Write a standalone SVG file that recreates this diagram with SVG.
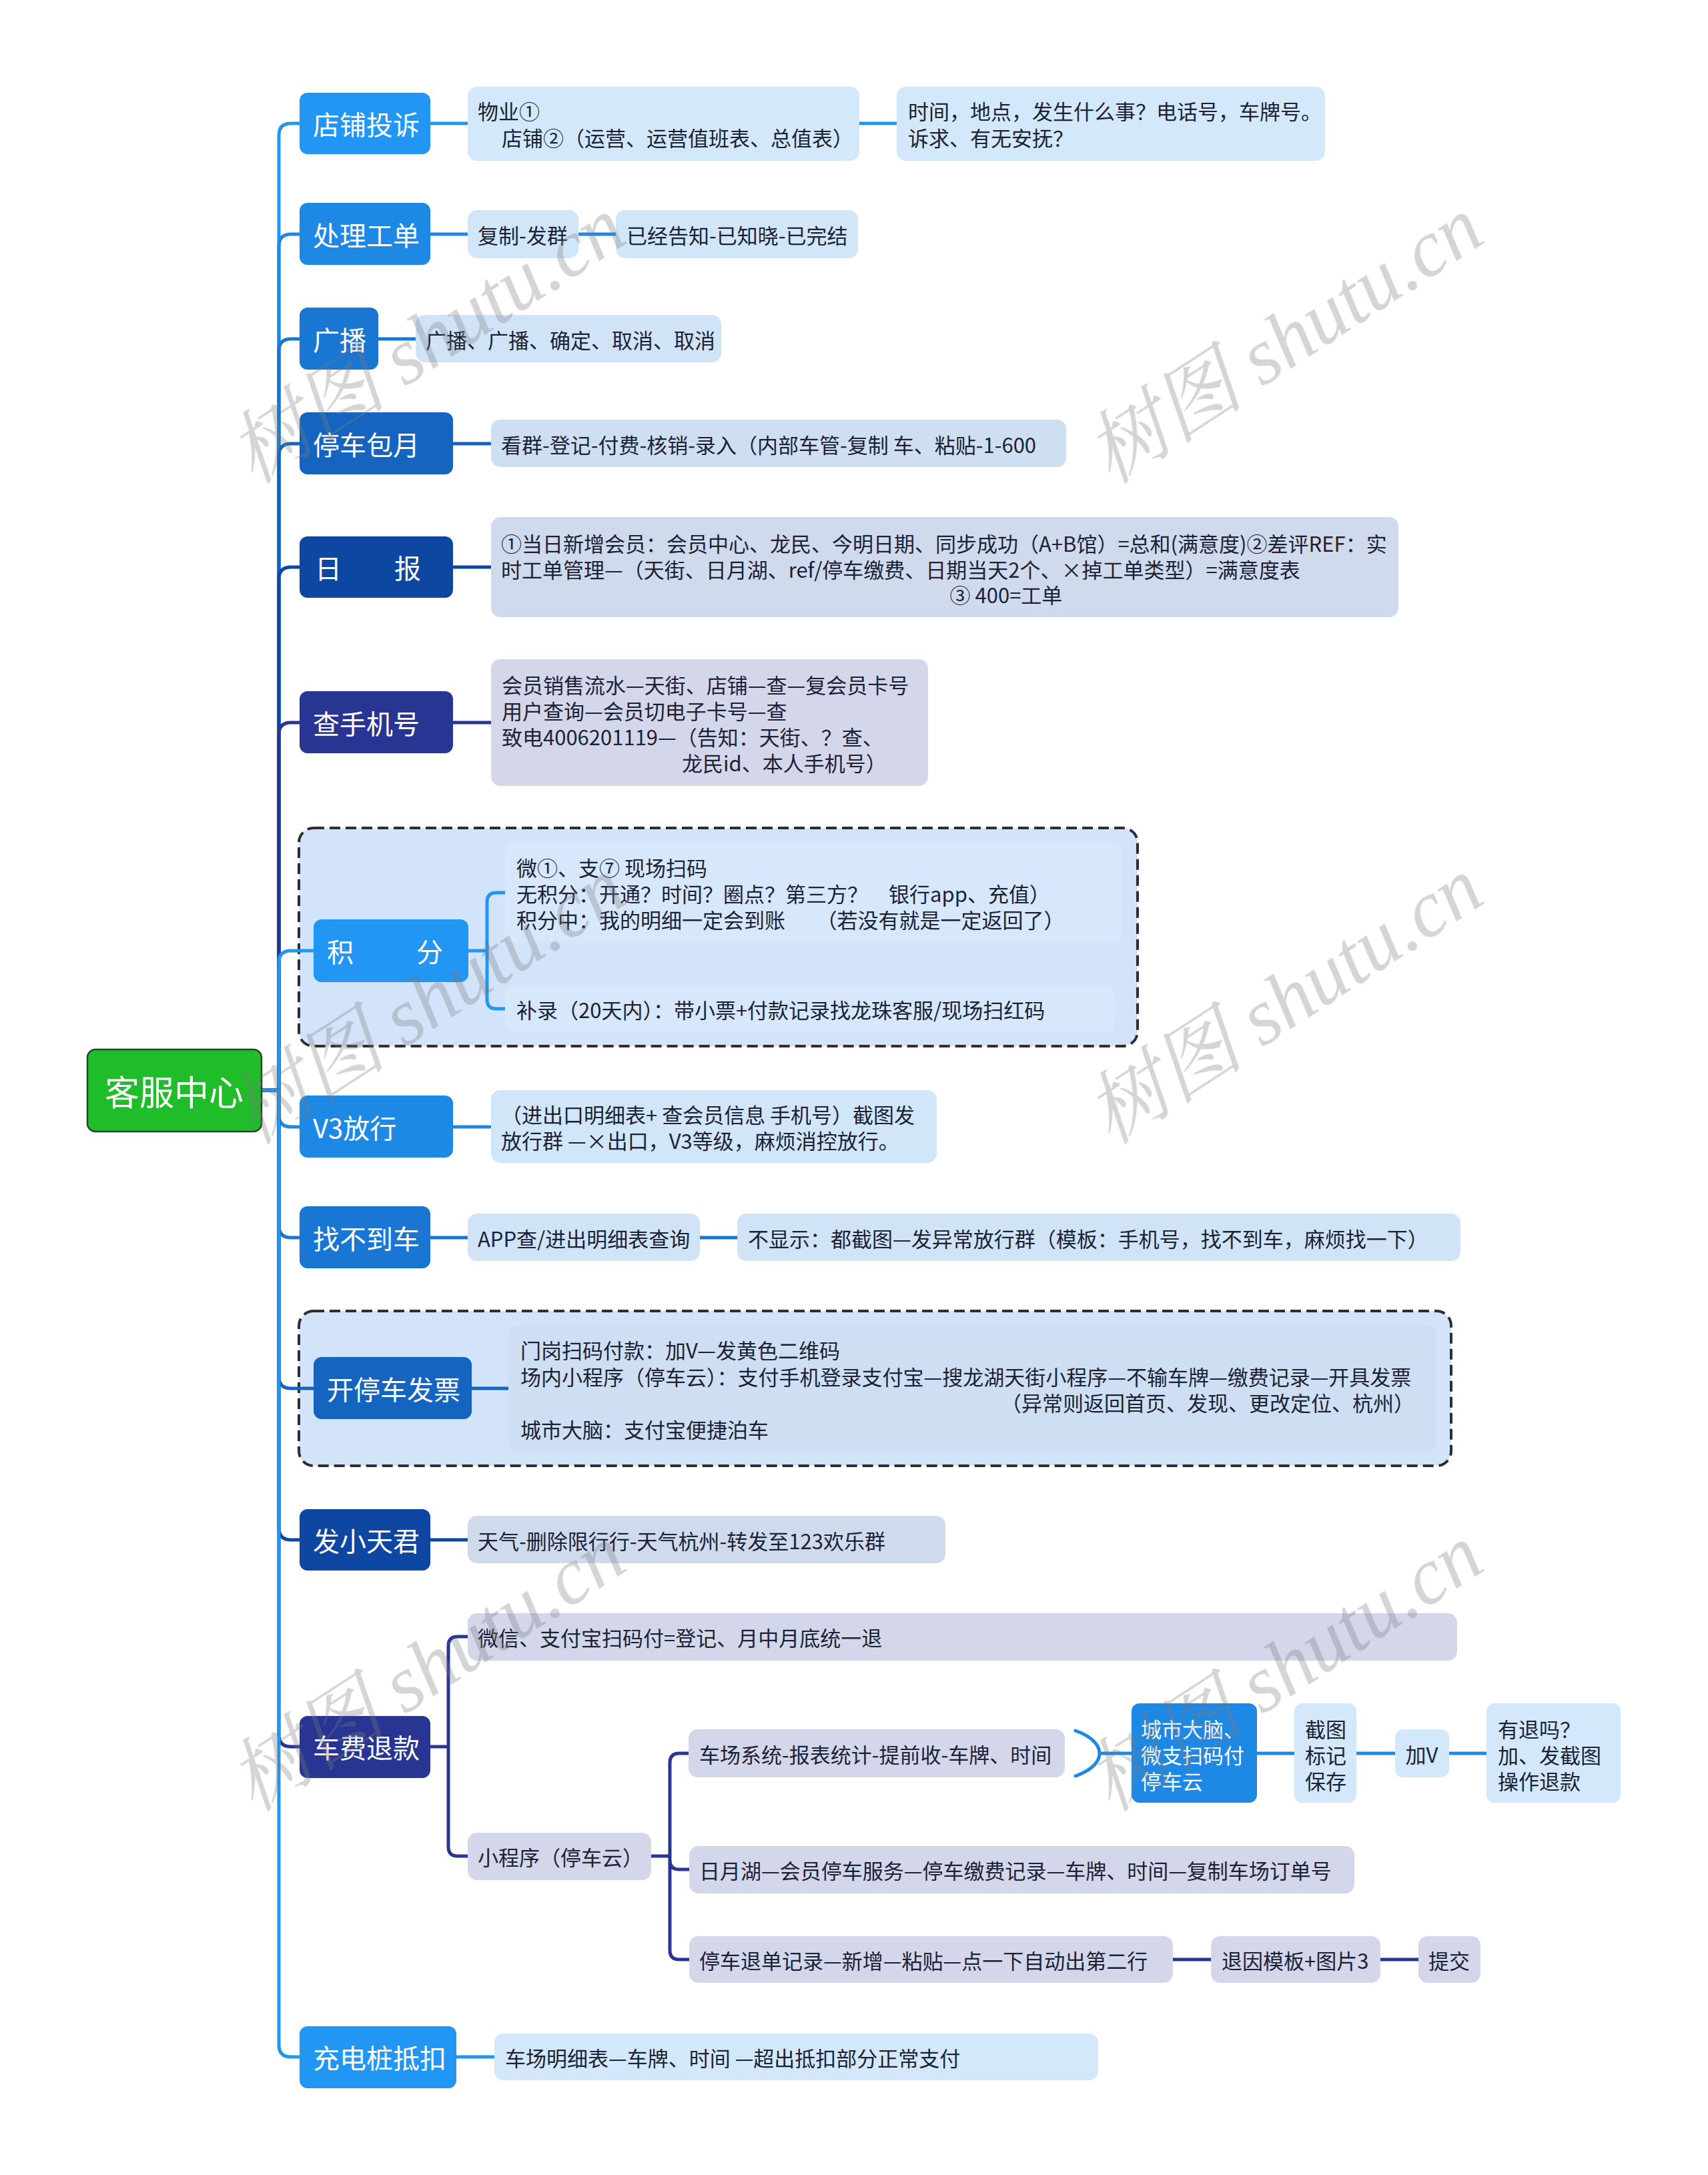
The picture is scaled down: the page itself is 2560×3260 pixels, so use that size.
<svg xmlns="http://www.w3.org/2000/svg" width="2560" height="3260" viewBox="0 0 2560 3260">
<style>
text{font-family:"Noto Sans CJK SC","Noto Sans",sans-serif;}
.t1{fill:#fff;font-size:40px;dominant-baseline:central;}
.t2{fill:#1b2236;font-size:31px;dominant-baseline:central;}
.tw{fill:#fff;font-size:31px;dominant-baseline:central;}
.ln{fill:none;stroke-width:5;stroke-linecap:round;stroke-linejoin:round;}
.frame{stroke:#2e2e2e;stroke-width:4;stroke-dasharray:16 8;}
.wm{fill:#7a7a7a;font-size:120px;font-family:"Liberation Serif","Noto Serif CJK SC","Noto Sans CJK SC",serif;font-style:italic;}
</style>
<rect width="2560" height="3260" fill="#ffffff"/>

<g id="frames">
<rect class="frame" x="448" y="1241" width="1257" height="327" rx="22" fill="#d3e3fa"/>
<rect class="frame" x="448" y="1965" width="1727" height="232" rx="22" fill="#d3e3fa"/>
</g>

<g id="connectors">
<path class="ln" stroke="#2196F3" d="M392 1634 H418 V203 Q418 185 436 185 H449"/>
<path class="ln" stroke="#1E88E5" d="M392 1634 H418 V369 Q418 351 436 351 H449"/>
<path class="ln" stroke="#1976D2" d="M392 1634 H418 V526 Q418 508 436 508 H449"/>
<path class="ln" stroke="#1565C0" d="M392 1634 H418 V683 Q418 665 436 665 H449"/>
<path class="ln" stroke="#0D47A1" d="M392 1634 H418 V868 Q418 850 436 850 H449"/>
<path class="ln" stroke="#283593" d="M392 1634 H418 V1101 Q418 1083 436 1083 H449"/>
<path class="ln" stroke="#2196F3" d="M392 1634 H418 V1443 Q418 1425 436 1425 H470"/>
<path class="ln" stroke="#1E88E5" d="M392 1634 H418 V1671 Q418 1689 436 1689 H449"/>
<path class="ln" stroke="#1976D2" d="M392 1634 H418 V1837 Q418 1855 436 1855 H449"/>
<path class="ln" stroke="#1565C0" d="M392 1634 H418 V2063 Q418 2081 436 2081 H470"/>
<path class="ln" stroke="#0D47A1" d="M392 1634 H418 V2290 Q418 2308 436 2308 H449"/>
<path class="ln" stroke="#283593" d="M392 1634 H418 V2600 Q418 2618 436 2618 H449"/>
<path class="ln" stroke="#2196F3" d="M392 1634 H418 V3065 Q418 3083 436 3083 H449"/>

<path class="ln" stroke="#2196F3" d="M645 185 H701 M1288 185 H1344"/>
<path class="ln" stroke="#1E88E5" d="M645 351 H701 M867 351 H923"/>
<path class="ln" stroke="#1976D2" d="M567 508 H623"/>
<path class="ln" stroke="#1565C0" d="M679 665 H736"/>
<path class="ln" stroke="#0D47A1" d="M679 850 H736"/>
<path class="ln" stroke="#283593" d="M679 1083 H736"/>
<path class="ln" stroke="#2196F3" d="M702 1425 H730 V1352 Q730 1338 744 1338 H757 M730 1425 V1498 Q730 1512 744 1512 H757"/>
<path class="ln" stroke="#1E88E5" d="M679 1689 H736"/>
<path class="ln" stroke="#1976D2" d="M645 1855 H701 M1049 1855 H1105"/>
<path class="ln" stroke="#1565C0" d="M707 2081 H762"/>
<path class="ln" stroke="#0D47A1" d="M645 2308 H701"/>
<path class="ln" stroke="#283593" d="M645 2618 H672 V2467 Q672 2453 686 2453 H701 M672 2618 V2768 Q672 2782 686 2782 H701"/>
<path class="ln" stroke="#283593" d="M976 2782 H1004 V2642 Q1004 2628 1018 2628 H1032 M1004 2782 V2788 Q1004 2802 1018 2802 H1033 M1004 2782 V2923 Q1004 2937 1018 2937 H1033"/>
<path class="ln" stroke="#283593" d="M1758 2937 H1815 M2069 2937 H2126"/>
<path class="ln" stroke="#1E88E5" stroke-width="4" d="M1612 2594 C1640 2604 1648 2618 1648 2628 C1648 2638 1640 2652 1612 2662"/>
<path class="ln" stroke="#1E88E5" d="M1648 2628 H1696 M1884 2628 H1940 M2033 2628 H2091 M2172 2628 H2228"/>
<path class="ln" stroke="#2196F3" d="M684 3083 H741"/>
</g>

<g id="root">
<rect x="131" y="1573" width="261" height="123" rx="12" fill="#1fbd2a" stroke="#2d4030" stroke-width="2.5"/>
<text x="261" y="1634" text-anchor="middle" fill="#fff" font-size="52" dominant-baseline="central">客服中心</text>
</g>

<g id="n-dianpu">
<rect x="449" y="139" width="196" height="92" rx="12" fill="#2196F3"/>
<text class="t1" x="469" y="185">店铺投诉</text>
</g>
<g id="n-dianpu-1">
<rect x="701" y="130" width="587" height="111" rx="14" fill="#d3e8fb"/>
<text class="t2" x="716" y="165">物业①</text>
<text class="t2" x="752" y="205">店铺②（运营、运营值班表、总值表）</text>
</g>
<g id="n-dianpu-2">
<rect x="1344" y="130" width="642" height="111" rx="14" fill="#d3e8fb"/>
<text class="t2" x="1361" y="165">时间，地点，发生什么事？电话号，车牌号。</text>
<text class="t2" x="1361" y="205">诉求、有无安抚？</text>
</g>

<g id="n-gongdan">
<rect x="449" y="304" width="196" height="93" rx="12" fill="#1E88E5"/>
<text class="t1" x="469" y="351">处理工单</text>
</g>
<g id="n-gongdan-1">
<rect x="701" y="315" width="166" height="72" rx="14" fill="#d2e6fa"/>
<text class="t2" x="716" y="351">复制-发群</text>
</g>
<g id="n-gongdan-2">
<rect x="923" y="315" width="363" height="72" rx="14" fill="#d2e6fa"/>
<text class="t2" x="939" y="351">已经告知-已知晓-已完结</text>
</g>

<g id="n-guangbo">
<rect x="449" y="461" width="118" height="93" rx="12" fill="#1976D2"/>
<text class="t1" x="469" y="508">广播</text>
</g>
<g id="n-guangbo-1">
<rect x="623" y="472" width="458" height="71" rx="14" fill="#d1e3f6"/>
<text class="t2" x="638" y="508">广播、广播、确定、取消、取消</text>
</g>

<g id="n-baoyue">
<rect x="449" y="618" width="230" height="93" rx="12" fill="#1565C0"/>
<text class="t1" x="469" y="665">停车包月</text>
</g>
<g id="n-baoyue-1">
<rect x="736" y="629" width="862" height="71" rx="14" fill="#cfdff2"/>
<text class="t2" x="751" y="665">看群-登记-付费-核销-录入（内部车管-复制 车、粘贴-1-600</text>
</g>

<g id="n-ribao">
<rect x="449" y="804" width="230" height="92" rx="12" fill="#0D47A1"/>
<text class="t1" y="850"><tspan x="472">日</tspan><tspan x="591">报</tspan></text>
</g>
<g id="n-ribao-1">
<rect x="736" y="775" width="1360" height="150" rx="14" fill="#cfdaec"/>
<text class="t2" x="751" y="813">①当日新增会员：会员中心、龙民、今明日期、同步成功（A+B馆）=总和(满意度)②差评REF：实</text>
<text class="t2" x="751" y="852">时工单管理—（天街、日月湖、ref/停车缴费、日期当天2个、×掉工单类型）=满意度表</text>
<text class="t2" x="1508" y="890" text-anchor="middle">③ 400=工单</text>
</g>

<g id="n-shouji">
<rect x="449" y="1036" width="230" height="93" rx="12" fill="#283593"/>
<text class="t1" x="469" y="1083">查手机号</text>
</g>
<g id="n-shouji-1">
<rect x="736" y="988" width="655" height="190" rx="14" fill="#d4d7ea"/>
<text class="t2" x="752" y="1025">会员销售流水—天街、店铺—查—复会员卡号</text>
<text class="t2" x="752" y="1064">用户查询—会员切电子卡号—查</text>
<text class="t2" x="752" y="1103">致电4006201119—（告知：天街、？查、</text>
<text class="t2" x="1022" y="1142">龙民id、本人手机号）</text>
</g>

<g id="n-jifen">
<rect x="470" y="1378" width="232" height="94" rx="12" fill="#2196F3"/>
<text class="t1" y="1425"><tspan x="490">积</tspan><tspan x="624">分</tspan></text>
</g>
<g id="n-jifen-1">
<rect x="757" y="1262" width="924" height="151" rx="14" fill="#d7e8fc"/>
<text class="t2" x="774" y="1299">微①、支⑦ 现场扫码</text>
<text class="t2" x="774" y="1338">无积分：开通？时间？圈点？第三方？　银行app、充值）</text>
<text class="t2" x="774" y="1377">积分中：我的明细一定会到账　　（若没有就是一定返回了）</text>
</g>
<g id="n-jifen-2">
<rect x="757" y="1477" width="914" height="71" rx="14" fill="#d7e8fc"/>
<text class="t2" x="774" y="1512">补录（20天内）：带小票+付款记录找龙珠客服/现场扫红码</text>
</g>

<g id="n-v3">
<rect x="449" y="1642" width="230" height="93" rx="12" fill="#1E88E5"/>
<text class="t1" x="469" y="1689">V3放行</text>
</g>
<g id="n-v3-1">
<rect x="736" y="1634" width="668" height="109" rx="14" fill="#d2e6fa"/>
<text class="t2" x="751" y="1669">（进出口明细表+ 查会员信息 手机号）截图发</text>
<text class="t2" x="751" y="1708">放行群 —×出口，V3等级，麻烦消控放行。</text>
</g>

<g id="n-zhaoche">
<rect x="449" y="1808" width="196" height="93" rx="12" fill="#1976D2"/>
<text class="t1" x="469" y="1855">找不到车</text>
</g>
<g id="n-zhaoche-1">
<rect x="701" y="1819" width="348" height="71" rx="14" fill="#d1e3f6"/>
<text class="t2" x="716" y="1855">APP查/进出明细表查询</text>
</g>
<g id="n-zhaoche-2">
<rect x="1105" y="1819" width="1084" height="71" rx="14" fill="#d1e3f6"/>
<text class="t2" x="1121" y="1855">不显示：都截图—发异常放行群（模板：手机号，找不到车，麻烦找一下）</text>
</g>

<g id="n-fapiao">
<rect x="470" y="2034" width="237" height="93" rx="12" fill="#1565C0"/>
<text class="t1" x="490" y="2081">开停车发票</text>
</g>
<g id="n-fapiao-1">
<rect x="762" y="1986" width="1391" height="190" rx="14" fill="#cfdff3"/>
<text class="t2" x="780" y="2022">门岗扫码付款：加V—发黄色二维码</text>
<text class="t2" x="780" y="2062">场内小程序（停车云）：支付手机登录支付宝—搜龙湖天街小程序—不输车牌—缴费记录—开具发票</text>
<text class="t2" x="2120" y="2101" text-anchor="end">（异常则返回首页、发现、更改定位、杭州）</text>
<text class="t2" x="780" y="2141">城市大脑：支付宝便捷泊车</text>
</g>

<g id="n-xiaotianjun">
<rect x="449" y="2262" width="196" height="92" rx="12" fill="#0D47A1"/>
<text class="t1" x="469" y="2308">发小天君</text>
</g>
<g id="n-xiaotianjun-1">
<rect x="701" y="2272" width="716" height="71" rx="14" fill="#cfdaec"/>
<text class="t2" x="716" y="2308">天气-删除限行行-天气杭州-转发至123欢乐群</text>
</g>

<g id="n-tuikuan">
<rect x="449" y="2572" width="196" height="93" rx="12" fill="#283593"/>
<text class="t1" x="469" y="2618">车费退款</text>
</g>
<g id="n-tuikuan-1">
<rect x="701" y="2418" width="1483" height="71" rx="14" fill="#d4d7ea"/>
<text class="t2" x="716" y="2453">微信、支付宝扫码付=登记、月中月底统一退</text>
</g>
<g id="n-tuikuan-2">
<rect x="701" y="2747" width="275" height="71" rx="14" fill="#d4d7ea"/>
<text class="t2" x="716" y="2782">小程序（停车云）</text>
</g>
<g id="n-tk-b1">
<rect x="1032" y="2592" width="564" height="72" rx="14" fill="#d4d7ea"/>
<text class="t2" x="1048" y="2628">车场系统-报表统计-提前收-车牌、时间</text>
</g>
<g id="n-tk-b2">
<rect x="1033" y="2767" width="997" height="71" rx="14" fill="#d4d7ea"/>
<text class="t2" x="1048" y="2802">日月湖—会员停车服务—停车缴费记录—车牌、时间—复制车场订单号</text>
</g>
<g id="n-tk-b3">
<rect x="1033" y="2902" width="725" height="70" rx="14" fill="#d4d7ea"/>
<text class="t2" x="1048" y="2937">停车退单记录—新增—粘贴—点一下自动出第二行</text>
</g>
<g id="n-tk-b3-1">
<rect x="1815" y="2902" width="254" height="70" rx="14" fill="#d4d7ea"/>
<text class="t2" x="1831" y="2937">退因模板+图片3</text>
</g>
<g id="n-tk-b3-2">
<rect x="2126" y="2902" width="93" height="70" rx="14" fill="#d4d7ea"/>
<text class="t2" x="2172" y="2937" text-anchor="middle">提交</text>
</g>
<g id="n-tk-city">
<rect x="1696" y="2553" width="188" height="149" rx="12" fill="#1E88E5"/>
<text class="tw" x="1710" y="2590">城市大脑、</text>
<text class="tw" x="1710" y="2629">微支扫码付</text>
<text class="tw" x="1710" y="2668">停车云</text>
</g>
<g id="n-tk-jietu">
<rect x="1940" y="2553" width="93" height="149" rx="12" fill="#d3e8fb"/>
<text class="t2" x="1956" y="2590">截图</text>
<text class="t2" x="1956" y="2629">标记</text>
<text class="t2" x="1956" y="2668">保存</text>
</g>
<g id="n-tk-jiav">
<rect x="2091" y="2592" width="81" height="72" rx="12" fill="#d3e8fb"/>
<text class="t2" x="2131" y="2628" text-anchor="middle">加V</text>
</g>
<g id="n-tk-youtui">
<rect x="2228" y="2553" width="201" height="149" rx="12" fill="#d3e8fb"/>
<text class="t2" x="2245" y="2590">有退吗？</text>
<text class="t2" x="2245" y="2629">加、发截图</text>
<text class="t2" x="2245" y="2668">操作退款</text>
</g>

<g id="n-chongdian">
<rect x="449" y="3037" width="235" height="93" rx="12" fill="#2196F3"/>
<text class="t1" x="469" y="3083">充电桩抵扣</text>
</g>
<g id="n-chongdian-1">
<rect x="741" y="3048" width="905" height="70" rx="14" fill="#d3e8fb"/>
<text class="t2" x="757" y="3083">车场明细表—车牌、时间 —超出抵扣部分正常支付</text>
</g>

<g id="watermark" opacity="0.32">
<text class="wm" transform="translate(640 510) rotate(-33)" text-anchor="middle" dominant-baseline="central">树图 shutu.cn</text>
<text class="wm" transform="translate(1925 510) rotate(-33)" text-anchor="middle" dominant-baseline="central">树图 shutu.cn</text>
<text class="wm" transform="translate(640 1500) rotate(-33)" text-anchor="middle" dominant-baseline="central">树图 shutu.cn</text>
<text class="wm" transform="translate(1925 1500) rotate(-33)" text-anchor="middle" dominant-baseline="central">树图 shutu.cn</text>
<text class="wm" transform="translate(640 2500) rotate(-33)" text-anchor="middle" dominant-baseline="central">树图 shutu.cn</text>
<text class="wm" transform="translate(1925 2500) rotate(-33)" text-anchor="middle" dominant-baseline="central">树图 shutu.cn</text>
</g>
</svg>
